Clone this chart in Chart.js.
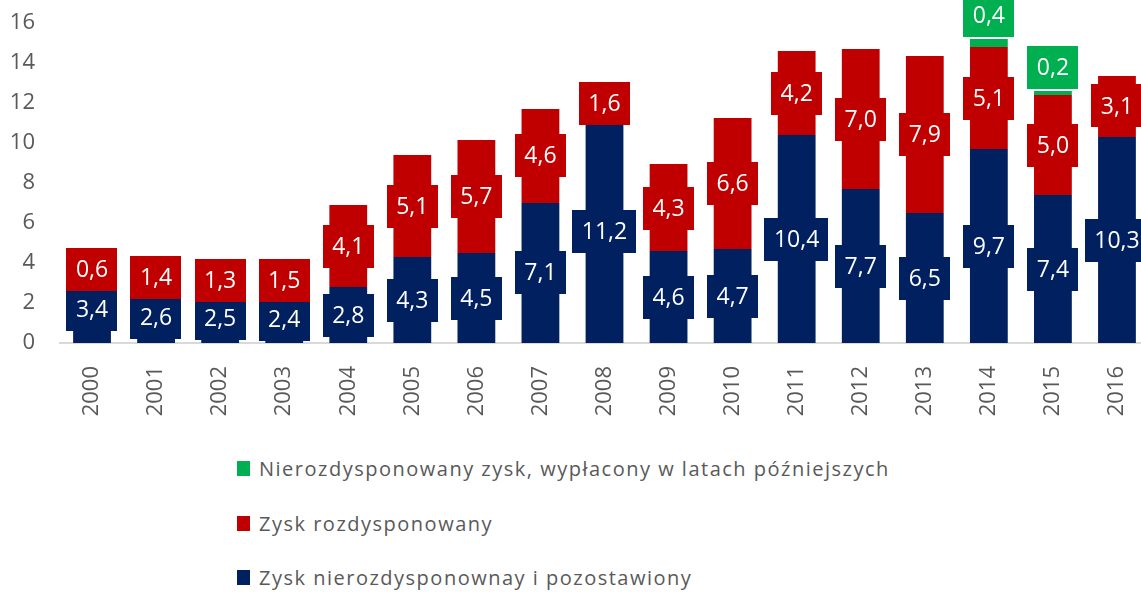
<!DOCTYPE html>
<html>
<head>
<meta charset="utf-8">
<script src="https://cdn.jsdelivr.net/npm/chart.js@4.4.1/dist/chart.umd.min.js"></script>
<style>
  html, body { margin: 0; padding: 0; background: #ffffff; overflow: hidden; }
  #wrap { position: relative; width: 1141px; height: 592px; overflow: hidden; }
  #c { position: absolute; left: 0; top: 0; }
  #legend { position: absolute; left: 237px; top: 0; font-family: "Open Sans", sans-serif; font-size: 20px; color: #595959; letter-spacing: 1.5px; }
  .item { position: absolute; left: 0; display: flex; align-items: center; white-space: nowrap; height: 24px; }
  .sw { width: 13px; height: 15px; margin-right: 9px; flex: none; }
</style>
</head>
<body>
<div id="wrap">
  <canvas id="c" width="1150" height="440"></canvas>
  <div id="legend"></div>
</div>
<script>
// ---- data ----
const years = ['2000','2001','2002','2003','2004','2005','2006','2007','2008','2009','2010','2011','2012','2013','2014','2015','2016'];
const seriesNames = [
  'Zysk nierozdysponownay i pozostawiony',
  'Zysk rozdysponowany',
  'Nierozdysponowany zysk, wypłacony w latach późniejszych'
];
const seriesColors = ['#002060', '#C00000', '#00B050'];
// bar heights as drawn
const keptValues  = [2.6, 2.3, 2.0, 2.0, 2.8, 4.3, 4.5, 7.0, 10.9, 4.6, 4.7, 10.4, 7.7, 6.5, 9.7, 7.4, 10.3];
const paidValues  = [2.1, 2.0, 2.15, 2.15, 4.1, 5.1, 5.65, 4.7, 2.1, 4.35, 6.55, 4.2, 7.0, 7.85, 5.1, 5.0, 3.05];
const laterValues = [null, null, null, null, null, null, null, null, null, null, null, null, null, null, 0.4, 0.2, null];
// data labels as printed
const keptLabels  = [3.4, 2.6, 2.5, 2.4, 2.8, 4.3, 4.5, 7.1, 11.2, 4.6, 4.7, 10.4, 7.7, 6.5, 9.7, 7.4, 10.3];
const paidLabels  = [0.6, 1.4, 1.3, 1.5, 4.1, 5.1, 5.7, 4.6, 1.6, 4.3, 6.6, 4.2, 7.0, 7.9, 5.1, 5.0, 3.1];
const laterLabels = [null, null, null, null, null, null, null, null, null, null, null, null, null, null, 0.4, 0.2, null];
const yTicks = [0, 2, 4, 6, 8, 10, 12, 14, 16];

const fmt = v => v.toFixed(1).replace('.', ',');

const labelPlugin = {
  id: 'boxLabels',
  afterDatasetsDraw(chart) {
    const ctx = chart.ctx, xs = chart.scales.x, ys = chart.scales.y;
    const boxH = 43;
    ctx.save();
    ctx.font = '23px "Open Sans"';
    ctx.textAlign = 'center';
    ctx.textBaseline = 'middle';
    const drawBox = (txt, cx, cy, color) => {
      const w = ctx.measureText(txt).width + 19;
      ctx.fillStyle = color;
      ctx.fillRect(Math.round(cx - w / 2), Math.round(cy - boxH / 2), Math.round(w), boxH);
      ctx.fillStyle = '#ffffff';
      ctx.fillText(txt, cx, cy + 1);
    };
    years.forEach((_, i) => {
      const cx = xs.getPixelForValue(i);
      let base = 0;
      [[keptLabels, 0], [paidLabels, 1]].forEach(([arr, s]) => {
        const v = arr[i];
        if (v == null) return;
        drawBox(fmt(v), cx, ys.getPixelForValue(base + v / 2), seriesColors[s]);
        base += v;
      });
      const g = laterLabels[i];
      if (g != null) {
        const top = ys.getPixelForValue(base + g);
        drawBox(fmt(g), cx, top - 2 - boxH / 2, seriesColors[2]);
      }
    });
    ctx.restore();
  }
};

new Chart(document.getElementById('c'), {
  type: 'bar',
  data: {
    labels: years,
    datasets: [
      { label: seriesNames[0], data: keptValues,  backgroundColor: seriesColors[0] },
      { label: seriesNames[1], data: paidValues,  backgroundColor: seriesColors[1] },
      { label: seriesNames[2], data: laterValues, backgroundColor: seriesColors[2] }
    ]
  },
  options: {
    responsive: false,
    animation: false,
    devicePixelRatio: 1,
    layout: { padding: { left: 0, right: 1, top: 23, bottom: 0 } },
    datasets: { bar: { barPercentage: 1, categoryPercentage: 0.59, borderWidth: 0 } },
    plugins: { legend: { display: false }, tooltip: { enabled: false }, title: { display: false } },
    scales: {
      x: {
        stacked: true,
        grid: { display: false, drawTicks: false },
        border: { display: true, color: '#D9D9D9', width: 2 },
        ticks: { minRotation: 90, maxRotation: 90, autoSkip: false, padding: 23, color: '#595959', font: { family: 'Open Sans', size: 22 } },
        afterFit: s => { s.height = 97; s.paddingLeft = 0; s.paddingRight = 0; }
      },
      y: {
        stacked: true,
        min: 0, max: 16,
        afterBuildTicks: s => { s.ticks = yTicks.map(v => ({ value: v })); },
        grid: { display: false, drawTicks: false },
        border: { display: false },
        ticks: { padding: 25, color: '#595959', font: { family: 'Open Sans', size: 22 } },
        afterFit: s => { s.width = 60; s.paddingTop = 0; s.paddingBottom = 0; }
      }
    }
  },
  plugins: [labelPlugin]
});

// legend (top-to-bottom: later, paid, kept)
const legend = document.getElementById('legend');
const order = [2, 1, 0];
const rowTops = [456, 511, 565];
order.forEach((s, k) => {
  const it = document.createElement('div');
  it.className = 'item';
  it.style.top = rowTops[k] + 'px';
  const sw = document.createElement('span');
  sw.className = 'sw';
  sw.style.background = seriesColors[s];
  const tx = document.createElement('span');
  tx.textContent = seriesNames[s];
  it.appendChild(sw);
  it.appendChild(tx);
  legend.appendChild(it);
});
</script>
</body>
</html>
